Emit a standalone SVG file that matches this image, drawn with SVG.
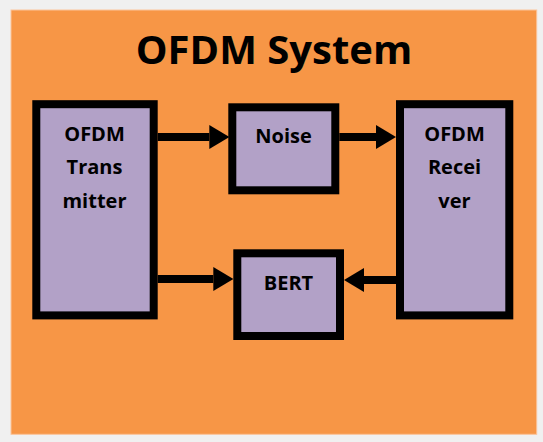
<svg xmlns="http://www.w3.org/2000/svg" width="543" height="442" viewBox="0 0 543 442">
  <style>
    .box { fill: #b2a1c7; stroke: #000; stroke-width: 8; }
    .lbl { font-family: "Open Sans", "Liberation Sans", sans-serif; font-weight: bold; font-size: 20px; fill: #000; text-anchor: middle; }
    .title { font-family: "Open Sans", "Liberation Sans", sans-serif; font-weight: bold; font-size: 40px; fill: #000; text-anchor: middle; }
    .conn { stroke: #000; stroke-width: 8; fill: none; marker-end: url(#head); }
  </style>
  <defs>
    <marker id="head" viewBox="0 0 10 12" markerWidth="2.5" markerHeight="3" refX="0" refY="6" orient="auto" markerUnits="strokeWidth">
      <path d="M0,0 L10,6 L0,12 Z" fill="#000"/>
    </marker>
  </defs>
  <rect x="0" y="0" width="543" height="442" fill="#f0f0f0"/>
  <rect x="11" y="10" width="525.7" height="424.3" fill="#f79646" stroke="#fbc49a" stroke-width="1"/>
  <text class="title" x="274" y="63.5">OFDM System</text>

  <g id="connectors">
    <path class="conn" d="M157.7,137 L209.3,137"/>
    <path class="conn" d="M339.3,137 L376,137"/>
    <path class="conn" d="M157.7,279 L213.3,279"/>
    <path class="conn" d="M396,280 L364,280"/>
  </g>

  <g id="transmitter">
    <rect class="box" x="36.3" y="104.2" width="117.4" height="211.2"/>
    <text class="lbl" x="94.5" y="140.7">OFDM</text>
    <text class="lbl" x="94.5" y="173.5">Trans</text>
    <text class="lbl" x="94.5" y="207.5">mitter</text>
  </g>

  <g id="noise">
    <rect class="box" x="232.3" y="107.3" width="103" height="83"/>
    <text class="lbl" x="283.5" y="143.3">Noise</text>
  </g>

  <g id="receiver">
    <rect class="box" x="400" y="104.2" width="109.3" height="211.2"/>
    <text class="lbl" x="454.5" y="140.7">OFDM</text>
    <text class="lbl" x="454.5" y="174">Recei</text>
    <text class="lbl" x="454.5" y="207.5">ver</text>
  </g>

  <g id="bert">
    <rect class="box" x="237.3" y="253.3" width="102.7" height="82.7"/>
    <text class="lbl" x="288.5" y="290">BERT</text>
  </g>
</svg>
